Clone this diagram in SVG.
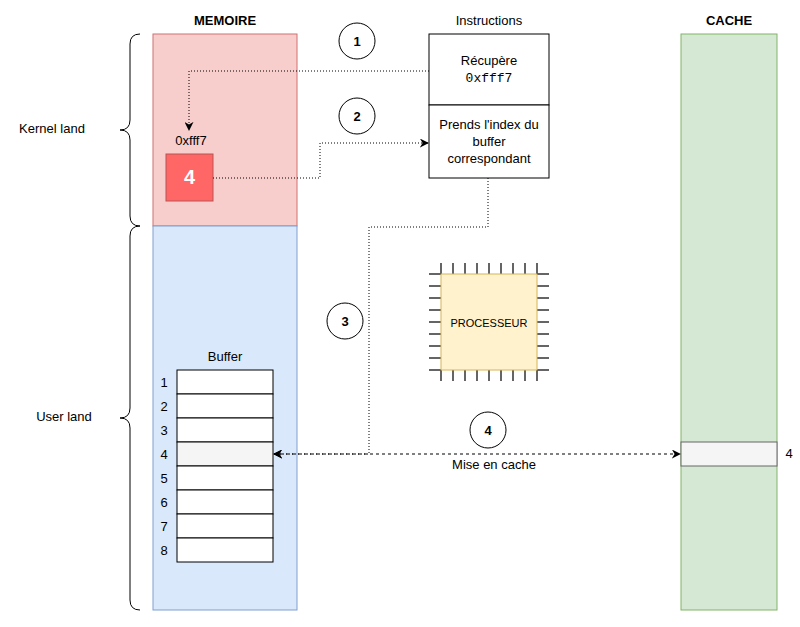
<svg xmlns="http://www.w3.org/2000/svg" width="800" height="627" viewBox="0 0 800 627">
<style>
text{font-family:"Liberation Sans",Arial,sans-serif;font-size:13px;fill:#000}
.c{text-anchor:middle}
.b{font-weight:bold}
.row{fill:#fff;stroke:#000;stroke-width:1}
.circ{fill:#fff;stroke:#000;stroke-width:1}
.dot{fill:none;stroke:#000;stroke-width:1;stroke-dasharray:1 2}
.pin{stroke:#333;stroke-width:1.5}
</style>
<defs>
<marker id="a" viewBox="0 0 10 10" refX="9" refY="5" markerWidth="9" markerHeight="9" markerUnits="userSpaceOnUse" orient="auto-start-reverse"><path d="M0,0 L10,5 L0,10 L3,5 Z" fill="#000"/></marker>
</defs>
<g id="memoire">
<text x="225" y="25" class="c b">MEMOIRE</text>
<rect x="153" y="34" width="144" height="192" fill="#f8cecc" stroke="#d07070"/>
<rect x="153" y="226" width="144" height="384" fill="#dae8fc" stroke="#7f9fcf"/>
</g>
<g id="kernel-cell">
<text x="191" y="145" class="c">0xfff7</text>
<rect x="166" y="154" width="47" height="47" fill="#ff6666" stroke="#b85450"/>
<text x="189.5" y="184" class="c b" style="fill:#fff;font-size:20px">4</text>
</g>
<g id="buffer">
<text x="225" y="361" class="c">Buffer</text>
<rect class="row" x="177" y="370" width="96" height="24"/>
<rect class="row" x="177" y="394" width="96" height="24"/>
<rect class="row" x="177" y="418" width="96" height="24"/>
<rect class="row" x="177" y="442" width="96" height="24" style="fill:#f5f5f5"/>
<rect class="row" x="177" y="466" width="96" height="24"/>
<rect class="row" x="177" y="490" width="96" height="24"/>
<rect class="row" x="177" y="514" width="96" height="24"/>
<rect class="row" x="177" y="538" width="96" height="24"/>
<text x="164" y="387" class="c">1</text>
<text x="164" y="411" class="c">2</text>
<text x="164" y="435" class="c">3</text>
<text x="164" y="459" class="c">4</text>
<text x="164" y="483" class="c">5</text>
<text x="164" y="507" class="c">6</text>
<text x="164" y="531" class="c">7</text>
<text x="164" y="555" class="c">8</text>
</g>
<g id="braces" fill="none" stroke="#000">
<path d="M140,34 Q130,34 130,44 L130,120 Q130,130 120,130 Q130,130 130,140 L130,216 Q130,226 140,226"/>
<path d="M140,226 Q130,226 130,236 L130,408 Q130,418 120,418 Q130,418 130,428 L130,600 Q130,610 140,610"/>
<text x="52" y="133" class="c" stroke="none">Kernel land</text>
<text x="64" y="421" class="c" stroke="none">User land</text>
</g>
<g id="instructions">
<text x="489" y="25" class="c">Instructions</text>
<rect x="429" y="34" width="120" height="71" fill="#fff" stroke="#000"/>
<rect x="429" y="105" width="120" height="73" fill="#fff" stroke="#000"/>
<text x="489" y="65" class="c">Récupère</text>
<text x="489" y="82" class="c" style="font-family:'Liberation Mono','DejaVu Sans Mono',monospace">0xfff7</text>
<text x="489" y="129" class="c">Prends l'index du</text>
<text x="489" y="146" class="c">buffer</text>
<text x="489" y="163" class="c">correspondant</text>
</g>
<g id="processeur">
<path class="pin" d="M441,263V274M453,263V274M465,263V274M477,263V274M489,263V274M501,263V274M513,263V274M525,263V274M537,263V274M441,370V381M453,370V381M465,370V381M477,370V381M489,370V381M501,370V381M513,370V381M525,370V381M537,370V381M429,274H441M429,286H441M429,298H441M429,310H441M429,322H441M429,334H441M429,346H441M429,358H441M429,370H441M537,274H549M537,286H549M537,298H549M537,310H549M537,322H549M537,334H549M537,346H549M537,358H549M537,370H549"/>
<rect x="441" y="274" width="96" height="96" fill="#fff2cc" stroke="#d6b656"/>
<text x="489" y="327" class="c" style="font-size:11px">PROCESSEUR</text>
</g>
<g id="cache">
<text x="729" y="25" class="c b">CACHE</text>
<rect x="681" y="34" width="96" height="576" fill="#d5e8d4" stroke="#82b366"/>
<rect x="681" y="442" width="96" height="24" fill="#f5f5f5" stroke="#666"/>
<text x="789" y="458" class="c">4</text>
</g>
<g id="steps">
<circle class="circ" cx="357" cy="41" r="18"/><text x="357" y="46" class="c b">1</text>
<circle class="circ" cx="357" cy="116" r="18"/><text x="357" y="121" class="c b">2</text>
<circle class="circ" cx="345" cy="321" r="18"/><text x="345" y="326" class="c b">3</text>
<circle class="circ" cx="488" cy="430" r="18"/><text x="488" y="435" class="c b">4</text>
</g>
<g id="connectors">
<path class="dot" d="M429,71H189V130" marker-end="url(#a)"/>
<path class="dot" d="M213,178H320V143H428" marker-end="url(#a)"/>
<path class="dot" d="M488,178V227H369V454H274" marker-end="url(#a)"/>
<path d="M274,454H680" fill="none" stroke="#000" stroke-dasharray="3 3" marker-start="url(#a)" marker-end="url(#a)"/>
<text x="494" y="469" class="c">Mise en cache</text>
</g>
</svg>
